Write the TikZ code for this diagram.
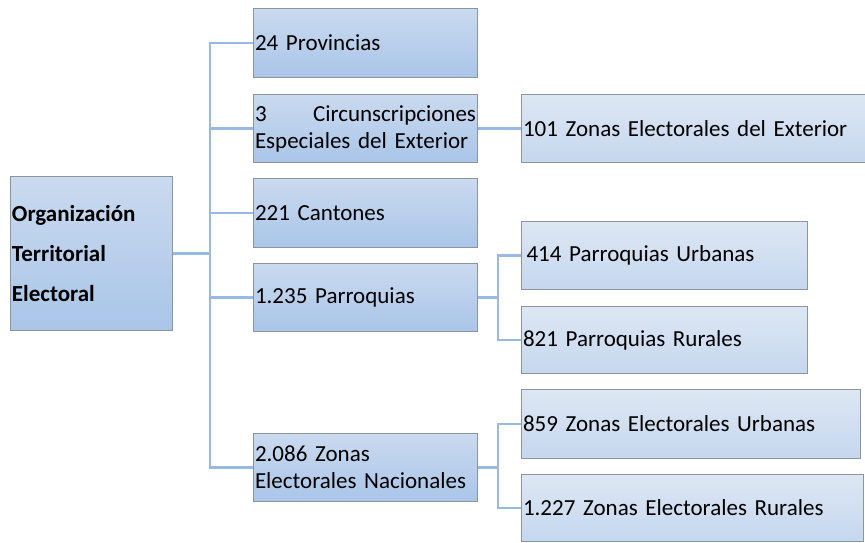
\documentclass[tikz,border=0pt]{standalone}
\usepackage{fontspec}
\setmainfont{Carlito}
\definecolor{topA}{HTML}{CADAEF}
\definecolor{botA}{HTML}{A9C5E8}
\definecolor{topB}{HTML}{DDE7F3}
\definecolor{botB}{HTML}{C5D7EE}
\definecolor{edge}{HTML}{8C949E}
\definecolor{link}{HTML}{97B9E2}
\tikzset{
  box/.style={draw=edge, line width=1pt, anchor=north west, inner xsep=1.5pt, inner ysep=0pt,
    align=left, font=\fontsize{23}{27}\selectfont},
  lvlA/.style={box, top color=topA, bottom color=botA},
  lvlB/.style={box, top color=topB, bottom color=botB},
  conn/.style={draw=link, line width=2.2pt}
}
\begin{document}
\begin{tikzpicture}[x=1pt,y=-1pt]
\useasboundingbox (0,0) rectangle (865,543);
% root
\node[lvlA, minimum width=162pt, minimum height=154pt, text width=159pt,
      font=\bfseries\fontsize{23}{40}\selectfont] (root) at (10,176)
  {Organización\\Territorial\\Electoral};
% level 1
\node[lvlA, minimum width=224pt, minimum height=69pt, text width=221pt] (p1) at (253,8) {24 Provincias};
\node[lvlA, minimum width=224pt, minimum height=68pt, text width=221pt] (p2) at (253,94) {3\hfill Circunscripciones\\Especiales del Exterior};
\node[lvlA, minimum width=224pt, minimum height=69pt, text width=221pt] (p3) at (253,178) {221 Cantones};
\node[lvlA, minimum width=224pt, minimum height=68pt, text width=221pt] (p4) at (253,263) {1.235 Parroquias};
\node[lvlA, minimum width=224pt, minimum height=68pt, text width=221pt] (p5) at (253,433) {2.086 Zonas\\Electorales Nacionales};
% level 2
\node[lvlB, minimum width=344pt, minimum height=68pt, text width=341pt] (q1) at (521,94) {101 Zonas Electorales del Exterior};
\node[lvlB, minimum width=283pt, minimum height=68pt, text width=276pt, inner xsep=5pt] (q2) at (521,221) {414 Parroquias Urbanas};
\node[lvlB, minimum width=286pt, minimum height=67pt, text width=283pt] (q3) at (521,306) {821 Parroquias Rurales};
\node[lvlB, minimum width=339pt, minimum height=69pt, text width=336pt] (q4) at (521,389) {859 Zonas Electorales Urbanas};
\node[lvlB, minimum width=342pt, minimum height=67pt, text width=339pt] (q5) at (521,474) {1.227 Zonas Electorales Rurales};
% connectors
\coordinate (tk) at (210,0);
\coordinate (tp) at (498,0);
\draw[conn] (root.east) -- (root.east -| tk);
\draw[conn] (p1.west) -- (p1.west -| tk) -- (p5.west -| tk) -- (p5.west);
\draw[conn] (p2.west -| tk) -- (p2.west);
\draw[conn] (p3.west -| tk) -- (p3.west);
\draw[conn] (p4.west -| tk) -- (p4.west);
\draw[conn] (p2.east) -- (q1.west);
\draw[conn] (p4.east) -- (p4.east -| tp);
\draw[conn] (q2.west) -- (q2.west -| tp) -- (q3.west -| tp) -- (q3.west);
\draw[conn] (p5.east) -- (p5.east -| tp);
\draw[conn] (q4.west) -- (q4.west -| tp) -- (q5.west -| tp) -- (q5.west);
\end{tikzpicture}
\end{document}
